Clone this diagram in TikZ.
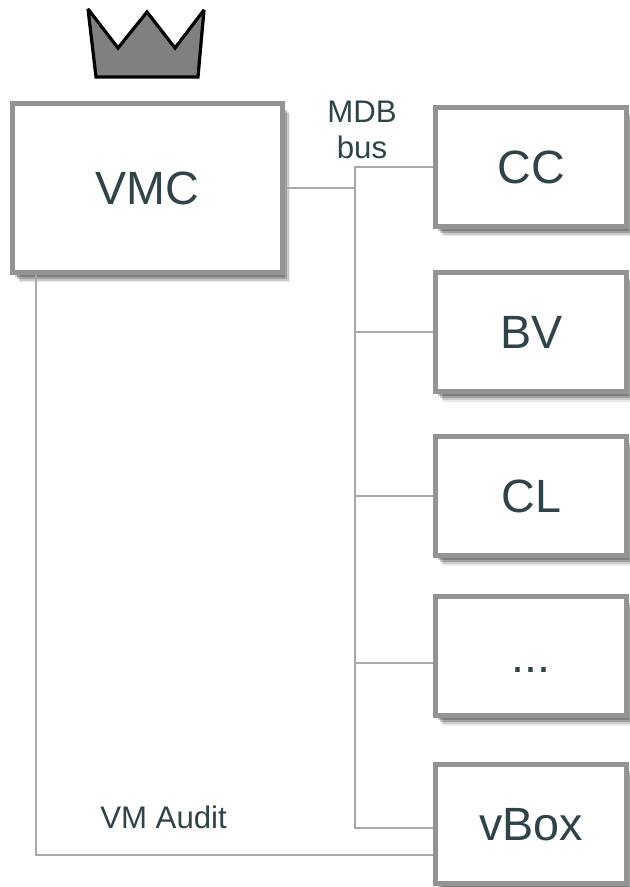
\documentclass[tikz,border=0pt]{standalone}
\usepackage{fontspec}
\setmainfont{Liberation Sans}
\usetikzlibrary{positioning,shadows}
\definecolor{boxgray}{HTML}{949494}
\definecolor{wiregray}{HTML}{A8A8A8}
\definecolor{inkslate}{HTML}{2F4348}

\begin{document}
\begin{tikzpicture}[
    x=.75pt, y=-.75pt,
    softshadow/.style={
        drop shadow={shadow xshift=1.5pt, shadow yshift=-3.5pt, opacity=.22, fill=black},
        drop shadow={shadow xshift=3pt, shadow yshift=-5pt, opacity=.2, fill=black},
        drop shadow={shadow xshift=4.5pt, shadow yshift=-6.5pt, opacity=.14, fill=black},
        drop shadow={shadow xshift=5.5pt, shadow yshift=-7.5pt, opacity=.08, fill=black}},
    unit/.style={draw=boxgray, line width=3.75pt, fill=white, softshadow, text=inkslate,
        minimum width=143.6pt, minimum height=89.25pt, inner sep=0pt,
        text height=25pt, text depth=0pt, font=\fontsize{35}{40}\selectfont},
    master/.style={unit, minimum width=202.5pt, minimum height=127pt},
    wire/.style={wiregray, line width=1.6pt},
    tag/.style={text=inkslate, inner sep=0pt, align=center, font=\fontsize{23.4}{26.5}\selectfont}
]
    \useasboundingbox (0,0) rectangle (629,887);

    % Crown
    \draw[fill=gray, line width=2.4pt, line join=miter, miter limit=3]
        (88,9) -- (118,48) -- (147,12) -- (175,48) -- (204,10) -- (198,77) -- (96,77) -- cycle;

    % Master
    \node (vmc) [master] at (147.5,187.75) {VMC};

    % Peripherals
    \node (cc) [unit] at (531.25,167) {CC};
    \node (bv) [unit, below=30.75pt of cc] {BV};
    \node (cl) [unit, below=30pt of bv] {CL};
    \node (more) [unit, below=27pt of cl] {...};
    \node (vbox) [unit, below=33pt of more] {vBox};

    % Bus and audit line corners
    \coordinate (bus) at (355,828);
    \coordinate (morebus) at (355,663);
    \coordinate (audit) at (36,855);

    % MDB bus
    \draw[wire] (vmc.east) -- (vmc.east -| bus);
    \draw[wire] (cc.west) -| (bus) -- (bus -| vbox.west);
    \draw[wire] (bus |- bv.west) -- (bv.west);
    \draw[wire] (bus |- cl.west) -- (cl.west);
    \draw[wire] (morebus) -- (morebus -| more.west);

    % VM Audit line
    \draw[wire] (vmc.south -| audit) -- (audit) -- (audit -| vbox.west);

    % Names
    \node (mdb) [tag] at (362,130) {MDB\\bus};
    \node (vmaudit) [tag, anchor=base west] at (100,828) {VM Audit};
\end{tikzpicture}
\end{document}
